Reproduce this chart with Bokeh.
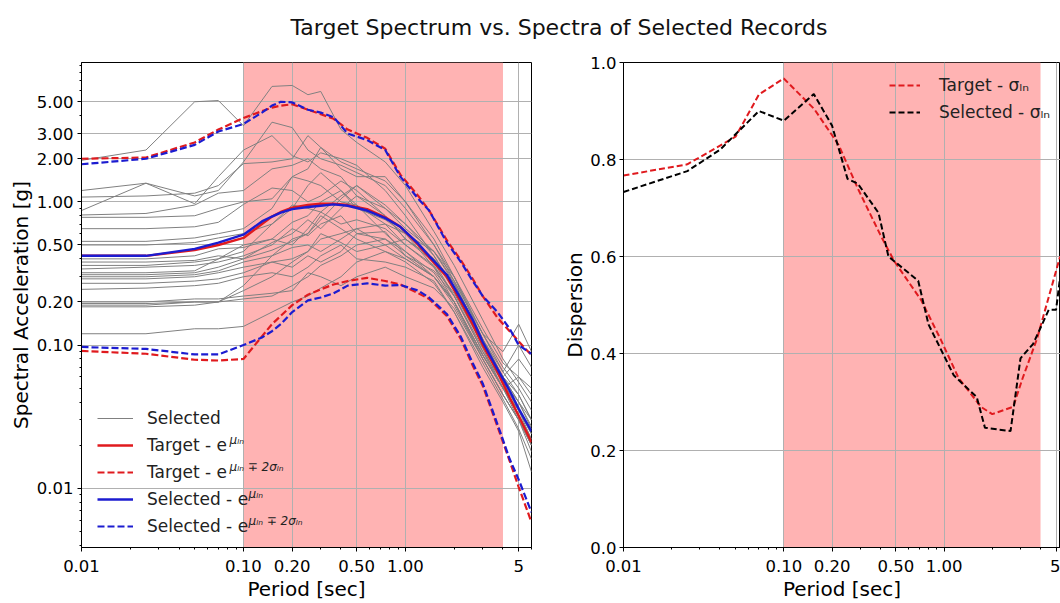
from bokeh.plotting import figure
from bokeh.models import Range1d, FixedTicker, BoxAnnotation, Legend, LegendItem, Label, Div
from bokeh.layouts import column, row
from bokeh.embed import file_html
from bokeh.resources import INLINE

FONT = "DejaVu Sans"

# ---------------- data: left panel ----------------
T_rec = [0.01, 0.025, 0.05, 0.07, 0.1, 0.15, 0.2, 0.25, 0.3, 0.4, 0.5, 0.75, 1.0, 1.5, 2.0, 3.0, 4.0, 5.0, 6.0]
rec_01 = [1.95, 2.3, 5.0, 5.1, 3.4, 6.4, 6.5, 5.6, 5.9, 3.2, 2.6, 1.9, 1.3, 0.62, 0.36, 0.15, 0.08, 0.055, 0.04]
rec_02 = [1.2, 1.35, 1.1, 1.2, 1.9, 3.6, 3.3, 2.3, 2.0, 1.8, 1.6, 1.3, 0.9, 0.5, 0.28, 0.12, 0.07, 0.05, 0.035]
rec_03 = [1.08, 1.1, 1.15, 1.3, 1.85, 1.9, 2.0, 2.9, 2.4, 1.7, 1.5, 1.5, 1.0, 0.55, 0.3, 0.13, 0.075, 0.06, 0.05]
rec_04 = [0.87, 1.35, 0.97, 1.5, 2.3, 2.9, 2.1, 1.9, 2.2, 2.0, 1.8, 1.2, 0.8, 0.42, 0.25, 0.1, 0.06, 0.045, 0.03]
rec_05 = [0.81, 0.83, 0.95, 1.15, 1.2, 1.7, 1.8, 2.0, 1.7, 1.5, 1.1, 0.9, 0.7, 0.45, 0.28, 0.12, 0.09, 0.14, 0.09]
rec_06 = [0.78, 0.78, 0.8, 0.9, 1.0, 1.05, 1.5, 1.7, 2.4, 1.9, 1.7, 1.4, 1.0, 0.5, 0.3, 0.11, 0.065, 0.045, 0.03]
rec_07 = [0.65, 0.65, 0.67, 0.72, 0.96, 1.25, 1.2, 1.0, 1.1, 1.4, 1.2, 0.8, 0.55, 0.38, 0.22, 0.09, 0.05, 0.035, 0.022]
rec_08 = [0.53, 0.53, 0.56, 0.6, 0.65, 0.9, 1.5, 1.4, 1.3, 1.0, 0.95, 0.7, 0.5, 0.35, 0.2, 0.085, 0.05, 0.03, 0.02]
rec_09 = [0.50, 0.50, 0.52, 0.56, 0.6, 0.7, 0.95, 0.9, 0.85, 1.1, 1.3, 0.9, 0.65, 0.45, 0.27, 0.11, 0.06, 0.04, 0.026]
rec_10 = [0.40, 0.40, 0.42, 0.47, 0.48, 0.55, 0.72, 0.8, 1.0, 1.2, 0.9, 0.75, 0.6, 0.35, 0.23, 0.1, 0.055, 0.035, 0.024]
rec_11 = [0.38, 0.38, 0.39, 0.42, 0.40, 0.52, 0.60, 0.75, 0.65, 0.9, 1.1, 0.8, 0.55, 0.4, 0.24, 0.1, 0.06, 0.08, 0.06]
rec_12 = [0.36, 0.36, 0.38, 0.40, 0.45, 0.7, 0.9, 1.3, 1.6, 1.2, 0.95, 0.6, 0.45, 0.32, 0.2, 0.08, 0.045, 0.03, 0.018]
rec_13 = [0.34, 0.35, 0.36, 0.38, 0.42, 0.5, 0.65, 0.58, 0.7, 0.8, 0.6, 0.55, 0.45, 0.3, 0.19, 0.08, 0.045, 0.03, 0.02]
rec_14 = [0.32, 0.32, 0.33, 0.40, 0.50, 0.55, 0.5, 0.65, 0.85, 0.7, 0.75, 0.65, 0.5, 0.36, 0.22, 0.095, 0.05, 0.033, 0.022]
rec_15 = [0.31, 0.31, 0.32, 0.35, 0.40, 0.46, 0.53, 0.6, 0.75, 1.05, 1.3, 0.95, 0.7, 0.42, 0.25, 0.1, 0.055, 0.036, 0.024]
rec_16 = [0.30, 0.30, 0.31, 0.33, 0.38, 0.42, 0.48, 0.5, 0.45, 0.55, 0.65, 0.7, 0.6, 0.45, 0.3, 0.12, 0.065, 0.1, 0.07]
rec_17 = [0.29, 0.29, 0.30, 0.32, 0.35, 0.38, 0.4, 0.45, 0.6, 0.52, 0.45, 0.5, 0.55, 0.4, 0.27, 0.11, 0.06, 0.04, 0.027]
rec_18 = [0.27, 0.27, 0.28, 0.29, 0.32, 0.38, 0.35, 0.42, 0.38, 0.45, 0.6, 0.62, 0.42, 0.3, 0.2, 0.085, 0.05, 0.032, 0.02]
rec_19 = [0.245, 0.25, 0.26, 0.27, 0.3, 0.32, 0.30, 0.35, 0.42, 0.5, 0.4, 0.38, 0.35, 0.28, 0.17, 0.075, 0.042, 0.026, 0.016]
rec_20 = [0.20, 0.20, 0.21, 0.21, 0.22, 0.23, 0.24, 0.32, 0.3, 0.26, 0.3, 0.35, 0.3, 0.25, 0.18, 0.08, 0.045, 0.03, 0.02]
rec_21 = [0.195, 0.195, 0.20, 0.20, 0.24, 0.30, 0.38, 0.45, 0.55, 0.6, 0.65, 0.5, 0.4, 0.3, 0.2, 0.085, 0.05, 0.06, 0.045]
rec_22 = [0.19, 0.19, 0.20, 0.20, 0.26, 0.42, 0.55, 0.6, 0.8, 0.65, 0.55, 0.45, 0.38, 0.27, 0.17, 0.07, 0.04, 0.025, 0.013]
rec_23 = [0.185, 0.185, 0.19, 0.20, 0.21, 0.22, 0.26, 0.3, 0.36, 0.42, 0.5, 0.55, 0.42, 0.33, 0.22, 0.09, 0.055, 0.04, 0.03]
rec_24 = [0.12, 0.12, 0.13, 0.13, 0.135, 0.17, 0.2, 0.22, 0.25, 0.3, 0.38, 0.45, 0.4, 0.3, 0.2, 0.085, 0.05, 0.035, 0.024]
records = [rec_01, rec_02, rec_03, rec_04, rec_05, rec_06, rec_07, rec_08, rec_09, rec_10, rec_11, rec_12,
           rec_13, rec_14, rec_15, rec_16, rec_17, rec_18, rec_19, rec_20, rec_21, rec_22, rec_23, rec_24]

T_stat = [0.01, 0.025, 0.05, 0.07, 0.1, 0.13, 0.15, 0.17, 0.2, 0.25, 0.3, 0.36, 0.44, 0.58, 0.75, 0.93,
          1.2, 1.4, 1.8, 2.2, 2.6, 3.0, 3.7, 4.4, 5.0, 6.0]
target_mean = [0.42, 0.42, 0.46, 0.50, 0.56, 0.70, 0.79, 0.85, 0.91, 0.95, 0.97, 0.97, 0.95, 0.89, 0.78, 0.67,
               0.50, 0.41, 0.30, 0.20, 0.14, 0.10, 0.065, 0.043, 0.032, 0.021]
selected_mean = [0.42, 0.42, 0.47, 0.52, 0.59, 0.73, 0.79, 0.84, 0.89, 0.92, 0.94, 0.96, 0.94, 0.87, 0.77, 0.67,
                 0.51, 0.42, 0.31, 0.21, 0.15, 0.105, 0.068, 0.048, 0.036, 0.025]
target_upper = [2.0, 2.04, 2.6, 3.2, 3.85, 4.3, 4.55, 4.7, 4.8, 4.4, 4.1, 3.8, 3.2, 2.8, 2.35, 1.55,
                1.1, 0.87, 0.54, 0.39, 0.29, 0.22, 0.155, 0.125, 0.106, 0.085]
selected_upper = [1.83, 2.0, 2.5, 3.1, 3.5, 4.2, 4.7, 5.0, 4.95, 4.4, 4.2, 3.9, 3.0, 2.7, 2.3, 1.5,
                  1.05, 0.87, 0.52, 0.38, 0.28, 0.22, 0.17, 0.13, 0.10, 0.087]
target_lower = [0.091, 0.087, 0.079, 0.078, 0.080, 0.115, 0.14, 0.16, 0.19, 0.225, 0.245, 0.265, 0.28, 0.295, 0.28, 0.265,
                0.23, 0.21, 0.16, 0.11, 0.072, 0.052, 0.027, 0.0155, 0.0102, 0.0058]
selected_lower = [0.097, 0.094, 0.086, 0.086, 0.10, 0.113, 0.125, 0.14, 0.17, 0.205, 0.215, 0.23, 0.26, 0.27, 0.26, 0.263,
                  0.24, 0.215, 0.165, 0.114, 0.075, 0.054, 0.028, 0.016, 0.0115, 0.0068]

# ---------------- data: right panel ----------------
T_disp_target = [0.01, 0.025, 0.05, 0.07, 0.1, 0.155, 0.22, 0.29, 0.40, 0.49, 0.72, 0.95, 1.23, 1.7, 2.0, 2.7, 3.1, 3.8, 5.3]
sigma_target = [0.767, 0.79, 0.847, 0.934, 0.967, 0.904, 0.83, 0.74, 0.645, 0.59, 0.51, 0.43, 0.35, 0.29, 0.275, 0.29, 0.35, 0.43, 0.60]
T_disp_selected = [0.01, 0.025, 0.04, 0.07, 0.1, 0.154, 0.2, 0.25, 0.29, 0.39, 0.45, 0.69, 0.8, 1.15, 1.6, 1.8, 2.6, 3.0, 3.6, 4.5, 5.0, 5.3]
sigma_selected = [0.733, 0.776, 0.82, 0.90, 0.88, 0.935, 0.87, 0.76, 0.75, 0.69, 0.60, 0.55, 0.46, 0.355, 0.31, 0.247, 0.24, 0.39, 0.42, 0.49, 0.49, 0.557]

x_ticks = [0.01, 0.1, 0.2, 0.5, 1.0, 5.0]
x_tick_labels = ["0.01", "0.10", "0.20", "0.50", "1.00", "5"]
y_ticks_left = [0.01, 0.1, 0.2, 0.5, 1.0, 2.0, 3.0, 5.0]
y_tick_labels_left = ["0.01", "0.10", "0.20", "0.50", "1.00", "2.00", "3.00", "5.00"]
y_ticks_right = [0.0, 0.2, 0.4, 0.6, 0.8, 1.0]
y_tick_labels_right = ["0.0", "0.2", "0.4", "0.6", "0.8", "1.0"]
range_lo, range_hi = 0.1, 4.0

x_minor = [0.02, 0.03, 0.04, 0.05, 0.06, 0.07, 0.08, 0.09, 0.3, 0.4, 0.6, 0.7, 0.8, 0.9, 2, 3, 4, 6]
y_minor = [0.004, 0.005, 0.006, 0.007, 0.008, 0.009, 0.02, 0.03, 0.04, 0.05, 0.06, 0.07, 0.08, 0.09,
           0.3, 0.4, 0.6, 0.7, 0.8, 0.9, 4, 6, 7, 8, 9]

RED = "#e01a1e"
BLUE = "#1c1cd0"
PINK = "#ffb3b3"
GRID = "#b0b0b0"


def style(p):
    p.background_fill_color = "white"
    p.border_fill_color = "white"
    p.outline_line_color = "black"
    p.outline_line_width = 1
    for ax in (p.xaxis[0], p.yaxis[0]):
        ax.axis_line_color = "black"
        ax.major_tick_line_color = "black"
        ax.minor_tick_line_color = "black"
        ax.major_tick_out = 4
        ax.major_tick_in = 0
        ax.minor_tick_out = 2
        ax.minor_tick_in = 0
        ax.major_label_text_font = FONT
        ax.major_label_text_font_size = "16.5px"
        ax.major_label_text_color = "black"
        ax.major_label_standoff = 4
        ax.axis_label_text_font = FONT
        ax.axis_label_text_font_size = "20px"
        ax.axis_label_text_font_style = "normal"
        ax.axis_label_text_color = "black"
        ax.axis_label_standoff = 4
    p.xaxis.major_label_standoff = 8
    p.xaxis.axis_label_standoff = 2
    p.grid.grid_line_color = GRID
    p.grid.grid_line_width = 1
    p.xaxis.ticker = FixedTicker(ticks=x_ticks, minor_ticks=x_minor)
    p.xaxis.major_label_overrides = dict(zip(x_ticks, x_tick_labels))
    p.xaxis.axis_label = "Period [sec]"
    p.add_layout(BoxAnnotation(left=range_lo, right=range_hi, fill_color=PINK, fill_alpha=1.0,
                               line_alpha=0, level="image"))


# ---------------- left panel ----------------
p1 = figure(width=560, height=553, x_axis_type="log", y_axis_type="log",
            x_range=Range1d(0.01, 6.0), y_range=Range1d(0.00386, 9.4),
            output_backend="svg", toolbar_location=None,
            min_border_left=81, min_border_right=29, min_border_top=12, min_border_bottom=50)
style(p1)
p1.yaxis.ticker = FixedTicker(ticks=y_ticks_left, minor_ticks=y_minor)
p1.yaxis.major_label_overrides = dict(zip(y_ticks_left, y_tick_labels_left))
p1.yaxis.axis_label = "Spectral Acceleration [g]"
p1.yaxis.axis_label_standoff = 1

gray_r = None
for rec in records:
    r = p1.line(T_rec, rec, line_color="#808080", line_width=1)
    if gray_r is None:
        gray_r = r
r_tm = p1.line(T_stat, target_mean, line_color=RED, line_width=2.4)
r_tu = p1.line(T_stat, target_upper, line_color=RED, line_width=2.2, line_dash="7 3")
p1.line(T_stat, target_lower, line_color=RED, line_width=2.2, line_dash="7 3")
r_sm = p1.line(T_stat, selected_mean, line_color=BLUE, line_width=2.4)
r_su = p1.line(T_stat, selected_upper, line_color=BLUE, line_width=2.2, line_dash="7 3")
p1.line(T_stat, selected_lower, line_color=BLUE, line_width=2.2, line_dash="7 3")

LEG_Y = 11
leg1 = Legend(items=[
    LegendItem(label="Selected", renderers=[gray_r]),
    LegendItem(label="Target - e", renderers=[r_tm]),
    LegendItem(label="Target - e", renderers=[r_tu]),
    LegendItem(label="Selected - e", renderers=[r_sm]),
    LegendItem(label="Selected - e", renderers=[r_su]),
], location=(16, LEG_Y))
leg1.label_text_font = FONT
leg1.label_text_font_size = "17px"
leg1.label_text_color = "#222222"
leg1.glyph_width = 36
leg1.glyph_height = 20
leg1.label_height = 20
leg1.label_standoff = 14
leg1.spacing = 7
leg1.padding = 0
leg1.margin = 0
leg1.border_line_alpha = 0
leg1.background_fill_alpha = 0
p1.add_layout(leg1)

sup_texts = ["μₗₙ", "μₗₙ ∓ 2σₗₙ", "μₗₙ", "μₗₙ ∓ 2σₗₙ"]
sup_x = [148, 148, 167, 167]
for i, (t, sx) in enumerate(zip(sup_texts, sup_x)):
    cy = LEG_Y + (3 - i) * 27 + 10
    p1.add_layout(Label(x=sx, y=cy + 6, x_units="screen", y_units="screen", text=t,
                        text_font=FONT, text_font_size="12px", text_font_style="italic",
                        text_baseline="middle", text_color="#222222"))

# ---------------- right panel ----------------
p2 = figure(width=500, height=553, x_axis_type="log",
            x_range=Range1d(0.01, 5.33), y_range=Range1d(0.0, 1.0),
            output_backend="svg", toolbar_location=None,
            min_border_left=61, min_border_right=0, min_border_top=12, min_border_bottom=50)
style(p2)
p2.yaxis.ticker = FixedTicker(ticks=y_ticks_right)
p2.yaxis.major_label_overrides = dict(zip(y_ticks_right, y_tick_labels_right))
p2.yaxis.axis_label = "Dispersion"
p2.yaxis.axis_label_standoff = 0
p2.yaxis.major_label_standoff = 3

r_st = p2.line(T_disp_target, sigma_target, line_color=RED, line_width=2, line_dash="6 3")
r_ss = p2.line(T_disp_selected, sigma_selected, line_color="black", line_width=2, line_dash="6 3")
leg2 = Legend(items=[
    LegendItem(label="Target - σₗₙ", renderers=[r_st]),
    LegendItem(label="Selected - σₗₙ", renderers=[r_ss]),
], location=(266, 425))
leg2.label_text_font = FONT
leg2.label_text_font_size = "17px"
leg2.label_text_color = "#222222"
leg2.glyph_width = 31
leg2.glyph_height = 20
leg2.label_height = 20
leg2.label_standoff = 19
leg2.spacing = 7
leg2.padding = 0
leg2.margin = 0
leg2.border_line_alpha = 0
leg2.background_fill_alpha = 0
p2.add_layout(leg2)

title = Div(text='<div style="width:1060px;box-sizing:border-box;padding-left:58px;text-align:center;'
                 'font-family:\'DejaVu Sans\';font-size:22px;color:#111;padding-top:12px;">'
                 'Target Spectrum vs. Spectra of Selected Records</div>',
            width=1060, height=50, margin=0)

layout = column(title, row(p1, p2, spacing=0), spacing=0)
open("out.html", "w").write(file_html(layout, INLINE))
